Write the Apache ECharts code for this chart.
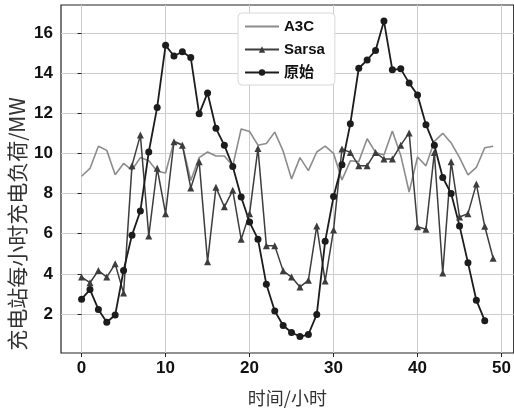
<!DOCTYPE html>
<html>
<head>
<meta charset="utf-8">
<script src="https://cdn.jsdelivr.net/npm/echarts@6/dist/echarts.min.js"></script>
<style>
  html, body { margin: 0; padding: 0; background: #fff; }
  #chart { width: 514px; height: 412px; }
</style>
</head>
<body>
<div id="chart"></div>
<script>
const hours = Array.from({ length: 50 }, (_, i) => i)
const xTicks = [0, 10, 20, 30, 40, 50]
const yTicks = [2, 4, 6, 8, 10, 12, 14, 16]

const a3c = [
  8.86, 9.25, 10.36, 10.15, 8.94, 9.5, 9.17, 9.79, 9.63, 9.11,
  9.02, 10.6, 10.44, 8.65, 9.79, 10.07, 9.87, 9.87, 9.38, 11.22,
  11.09, 10.41, 10.49, 11.06, 10.11, 8.73, 9.79, 9.14, 10.07, 10.36,
  10.0, 8.68, 9.63, 9.59, 10.73, 10.05, 9.92, 11.12, 9.9, 8.08,
  9.82, 9.38, 10.6, 11.0, 10.52, 9.79, 8.93, 9.3, 10.28, 10.36,
]
const sarsa = [
  3.84, 3.56, 4.17, 3.84, 4.5, 3.05, 9.39, 10.91, 5.89, 9.26,
  7.0, 10.58, 10.41, 8.28, 9.59, 4.61, 8.31, 7.34, 8.16, 5.73,
  7.0, 10.25, 5.4, 5.4, 4.15, 3.84, 3.35, 3.68, 6.39, 3.64,
  6.19, 10.22, 10.05, 9.39, 9.39, 10.05, 9.72, 9.72, 10.41, 11.02,
  6.35, 6.22, 10.04, 4.04, 9.59, 6.83, 7.0, 8.47, 6.37, 4.78,
]
const original = [
  2.74, 3.22, 2.23, 1.59, 1.95, 4.17, 5.93, 7.13, 10.07, 12.29,
  15.38, 14.85, 15.06, 14.77, 11.97, 13.01, 11.25, 10.4, 9.35, 7.83,
  6.58, 5.73, 3.48, 2.15, 1.43, 1.08, 0.88, 0.98, 1.98, 5.62,
  7.85, 9.43, 11.48, 14.24, 14.65, 15.13, 16.59, 14.16, 14.21, 13.5,
  12.91, 11.43, 10.41, 8.8, 8.0, 6.39, 4.56, 2.69, 1.67,
]

function pairs(values) {
  return values.map((v, i) => [hours[i], v])
}

function loadChart() {
  const tickFont = {
    fontFamily: 'Liberation Sans',
    fontWeight: 'bold',
    fontSize: 17,
    color: '#111',
  }
  const option = {
    animation: false,
    backgroundColor: '#fff',
    grid: {
      left: 61,
      top: 5,
      right: 0,
      bottom: 56,
      show: true,
      borderColor: '#222',
      borderWidth: 1.2,
    },
    legend: {
      orient: 'vertical',
      left: 238,
      top: 13,
      padding: [5, 10, 4, 6],
      itemWidth: 34,
      itemHeight: 8,
      itemGap: 6,
      backgroundColor: '#fff',
      borderColor: '#d8d8d8',
      borderWidth: 1,
      borderRadius: 4,
      textStyle: {
        fontFamily: "'Liberation Sans', 'Noto Sans CJK SC'",
        fontWeight: 'bold',
        fontSize: 15,
        lineHeight: 17,
        color: '#111',
      },
      data: [
        { name: 'A3C', itemStyle: { opacity: 0 } },
        'Sarsa',
        '原始',
      ],
    },
    xAxis: {
      type: 'value',
      min: -2.45,
      max: 51.45,
      name: '时间/小时',
      nameLocation: 'middle',
      nameGap: 36,
      nameTextStyle: {
        fontFamily: 'Noto Sans CJK SC',
        fontSize: 18,
        color: '#333',
      },
      axisLine: { show: false },
      axisTick: {
        show: true,
        length: 4,
        customValues: xTicks,
        lineStyle: { color: '#222' },
      },
      axisLabel: Object.assign({ margin: 7, customValues: xTicks }, tickFont),
      splitLine: { show: true, lineStyle: { color: '#cdcdcd', width: 1 } },
    },
    yAxis: {
      type: 'value',
      min: 0.06,
      max: 17.39,
      axisLine: { show: false },
      axisTick: {
        show: true,
        length: 4,
        customValues: yTicks,
        lineStyle: { color: '#222' },
      },
      axisLabel: Object.assign({ margin: 8, customValues: yTicks }, tickFont),
      splitLine: { show: true, lineStyle: { color: '#cdcdcd', width: 1 } },
    },
    graphic: [
      {
        type: 'text',
        x: 17,
        y: 224,
        rotation: Math.PI / 2,
        style: {
          text: '充电站每小时充电负荷/MW',
          font: '21px "Noto Sans CJK SC"',
          fill: '#333',
          align: 'center',
          verticalAlign: 'middle',
        },
      },
    ],
    series: [
      {
        name: 'A3C',
        type: 'line',
        data: pairs(a3c),
        symbol: 'none',
        lineStyle: { color: '#8c8c8c', width: 1.6 },
        itemStyle: { color: '#8c8c8c' },
      },
      {
        name: 'Sarsa',
        type: 'line',
        data: pairs(sarsa),
        symbol: 'triangle',
        symbolSize: 7,
        lineStyle: { color: '#3d3d3d', width: 1.5 },
        itemStyle: { color: '#3d3d3d' },
      },
      {
        name: '原始',
        type: 'line',
        data: pairs(original),
        symbol: 'circle',
        symbolSize: 7,
        lineStyle: { color: '#1c1c1c', width: 1.8 },
        itemStyle: { color: '#1c1c1c' },
      },
    ],
  }

  var myChart = echarts.init(document.getElementById('chart'))
  myChart.setOption(option)
}

loadChart()
</script>
</body>
</html>
